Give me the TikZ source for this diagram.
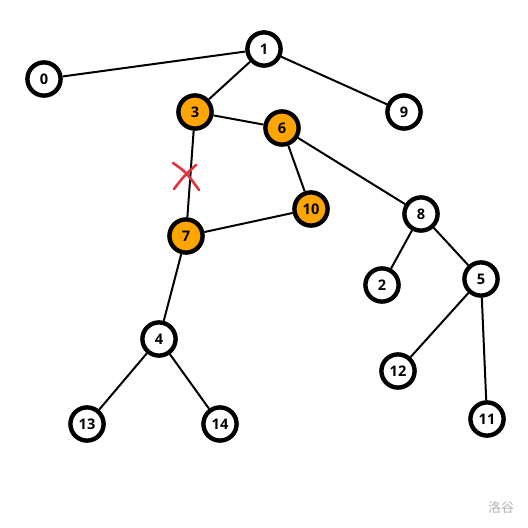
\documentclass[tikz,border=0pt]{standalone}
\usepackage{fontspec}
\setmainfont{Open Sans}
\newfontfamily\cjkfont{Noto Sans CJK SC}
\usetikzlibrary{positioning}
\definecolor{hotorange}{RGB}{255,165,0}
\definecolor{cutred}{RGB}{222,52,62}

\begin{document}
\begin{tikzpicture}[x=0.5pt, y=-0.5pt,
	vertex/.style={circle, draw=black, line width=2.2pt, fill=white, minimum size=16.6pt, inner sep=0pt, font=\fontsize{7.3}{8}\selectfont\bfseries},
	hot/.style={vertex, fill=hotorange},
	edge/.style={line width=1pt}]

		% canvas
		\useasboundingbox (0,0) rectangle (528,528);

		% white vertices
		\foreach \n/\x/\y in {1/264/49, 0/44/79, 9/404/112, 8/421/214, 2/382/285,
			5/481/279, 4/159/339, 12/398/371, 11/487/419, 13/87/424, 14/220/424}
			\node[vertex] (v\n) at (\x,\y) {\n};

		% vertices on the cycle
		\foreach \n/\x/\y in {3/195/112, 6/282/128, 10/311/209, 7/186/236}
			\node[hot] (v\n) at (\x,\y) {\n};

		% edges
		\foreach \a/\b in {1/0, 1/3, 1/9, 3/6, 3/7, 6/10, 6/8, 10/7, 7/4, 4/13, 4/14, 8/2, 8/5, 5/12, 5/11}
			\draw[edge] (v\a) -- (v\b);

		% cut mark on edge 3--7
		\draw[cutred, line width=1.3pt, line cap=round] (173,163) .. controls (186,172) .. (199,190);
		\draw[cutred, line width=1.3pt, line cap=round] (196,165) .. controls (184,176) .. (174,189);

		% watermark
		\node[font=\cjkfont\fontsize{6.5}{7}\selectfont, text=gray!60] (mark) at (501,508) {洛谷};

	\end{tikzpicture}
\end{document}
